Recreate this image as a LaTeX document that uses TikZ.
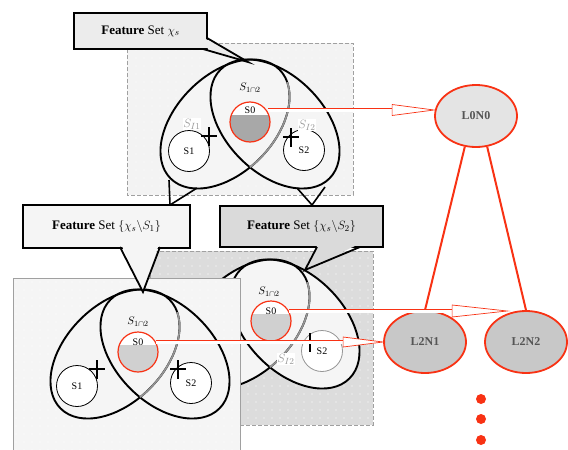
\documentclass[tikz,border=0pt]{standalone}
\usepackage{fontspec}
\setmainfont{Liberation Serif}
\usetikzlibrary{shapes.geometric,calc,patterns.meta}
\definecolor{rd}{RGB}{248,50,20}
\definecolor{panA}{RGB}{243,243,243}
\definecolor{panB}{RGB}{220,220,220}
\definecolor{panC}{RGB}{245,245,245}
\definecolor{boxA}{RGB}{236,236,236}
\definecolor{boxB}{RGB}{218,218,218}
\definecolor{ellf}{RGB}{245,245,245}
\definecolor{sgray}{RGB}{150,150,150}
\definecolor{edgegray}{RGB}{160,160,160}
\definecolor{s0dark}{RGB}{168,168,168}
\definecolor{s0light}{RGB}{208,208,208}
\definecolor{lnodef}{RGB}{200,200,200}
\definecolor{ltop}{RGB}{228,228,228}
\definecolor{ltext}{RGB}{85,85,85}

% the two overlapping tilted ellipses (coordinates of the top panel)
\newcommand\lshape[1]{\path[#1,rotate around={45:(225,124)}] (225,124) ellipse [x radius=77, y radius=49];}
\newcommand\rshape[1]{\path[#1,rotate around={-45:(275,124)}] (275,124) ellipse [x radius=77, y radius=49];}

\newcommand\ellpair[1]{%
 \begin{scope}[shift={#1}]
  \lshape{fill=ellf}
  \rshape{fill=ellf}
  \lshape{ellline}
  \rshape{ellline}
  \begin{scope}
   \rshape{clip}
   \clip (100,82) rectangle (400,220);
   \lshape{grayell}
  \end{scope}
 \end{scope}}

\newcommand\plusmark[1]{\draw[plusln] ($(#1)+(-8,0)$) -- ($(#1)+(8,0)$) ($(#1)+(0,-9)$) -- ($(#1)+(0,10)$);}

\newcommand\hollowarrow[4]{%
 \draw[arrowln] (#1) -- ($(#1 -| #2)+(-#3,0)$);
 \draw[arrowhd] ($(#1 -| #2)+(-#3,-#4)$) -- (#1 -| #2) -- ($(#1 -| #2)+(-#3,#4)$) -- cycle;}

\begin{document}
\begin{tikzpicture}[x=1pt,y=-1pt,
  ellline/.style={draw=black, line width=1.9pt},
  grayell/.style={draw=sgray, line width=1.7pt},
  plusln/.style={line width=1.9pt, black},
  s0node/.style={circle, draw=rd, line width=1.2pt, minimum size=40pt, inner sep=0pt, fill=#1,
     path picture={\fill[white] (path picture bounding box.north west) rectangle ([yshift=-13pt]path picture bounding box.north east);}},
  scirc/.style={circle, draw=#1, line width=0.8pt, minimum size=41pt, inner sep=0pt, fill=white, font=\fontsize{10}{10}\selectfont},
  stxt/.style={font=\fontsize{10}{10}\selectfont, inner sep=1pt, minimum width=36pt},
  ilab/.style={font=\fontsize{13}{13}\selectfont, text=sgray, fill=white, inner sep=0.5pt},
  clab/.style={font=\fontsize{11}{11}\selectfont, inner sep=0pt},
  fbox/.style={draw, line width=2pt, inner sep=0pt, font=\fontsize{13}{14}\selectfont},
  tailln/.style={draw, line width=1.8pt, line join=miter},
  conn/.style={draw, line width=1.6pt},
  panedge/.style={draw=edgegray, line width=0.6pt},
  dashedge/.style={draw=edgegray, line width=0.6pt, dash pattern=on 4pt off 2pt},
  dotsbg/.style={postaction={pattern={Dots[distance=8pt,radius=0.6pt]}, pattern color=white}},
  arrowln/.style={draw=rd, line width=0.7pt, double=white, double distance=3pt},
  arrowhd/.style={draw=rd, line width=0.7pt, fill=white, line join=miter},
  lnode/.style={ellipse, draw=rd, line width=1.8pt, minimum width=82pt, minimum height=62pt, inner sep=0pt, fill=#1, font=\fontsize{12}{12}\selectfont\bfseries, text=ltext},
  treeln/.style={draw=rd, line width=2pt},
  rdot/.style={circle, fill=rd, minimum size=10pt, inner sep=0pt}]
\useasboundingbox (0,0) rectangle (568,450);

% ---------- top panel ----------
\path[fill=panA, dotsbg] (127,43) rectangle (353,195);
\draw[dashedge] (127,43) rectangle (353,195);
\ellpair{(0,0)}
\node[s0node=s0dark] (s0a) at (250,122) {};
\node[stxt] (s0alab) at (250,110) {S0};
\node[scirc=black] (s1a) at (189,151) {S1};
\node[scirc=black] (s2a) at (304,150) {S2};
\plusmark{209,136}
\plusmark{291,137}
\node[ilab] (i1a) at (192,124) {$S_{I1}$};
\node[ilab] (i2a) at (307,125) {$S_{I2}$};
\node[clab] (ca) at (250,88) {$S_{1\cap 2}$};

% top callout
\node[fbox, fill=boxA, minimum width=133pt, minimum height=36pt] (tbox) at (140.5,31) {\textbf{Feature} Set $\chi_s$};
\coordinate (ta) at (248,62);
\fill[boxA] (204,38) -- (ta) -- (204,47) -- cycle;
\draw[tailln] (207,38) -- (ta) -- (203,49);

% connectors from top panel to lower boxes
\coordinate (la) at (170,205);
\coordinate (ra) at (312,205);
\draw[conn] (169,180) -- (la);
\draw[conn] (197,188) -- (la);
\draw[conn] (297,188) -- (ra);
\draw[conn] (325,187) -- (ra);

% ---------- second (gray) panel ----------
\path[fill=panB, dotsbg] (150,251) rectangle (373,425);
\draw[dashedge] (150,251) rectangle (373,425);
\ellpair{(20,200)}
\node[s0node=s0light] (s0b) at (271,321) {};
\node[stxt] (s0blab) at (271,311) {S0};
\node[scirc=sgray] (s2b) at (322,351) {S2};
\plusmark{310,342}
\node[ilab] (i2b) at (286,359) {$S_{I2}$};
\node[clab] (cb) at (269,292) {$S_{1\cap 2}$};

% right lower box
\node[fbox, fill=boxB, minimum width=163pt, minimum height=41pt] (rbox) at (301.5,226.5) {\textbf{Feature} Set $\{\chi_s\backslash S_2\}$};
\coordinate (rp) at (305,270);
\fill[boxB] (318,244) -- (rp) -- (359,244) -- cycle;
\draw[tailln] (317,247) -- (rp) -- (360,247);

% ---------- bottom-left panel ----------
\path[fill=panC, dotsbg] (13,278) rectangle (240,460);
\draw[panedge] (13,278) rectangle (240,460);
\ellpair{(-110,230)}
\node[s0node=s0light] (s0c) at (138,352) {};
\node[stxt] (s0clab) at (138,342) {S0};
\node[scirc=black] (s1c) at (77,386) {S1};
\node[scirc=black] (s2c) at (191,383) {S2};
\plusmark{97,369}
\plusmark{178,369}
\node[clab] (cc) at (138,322) {$S_{1\cap 2}$};

% left lower box
\node[fbox, fill=panC, minimum width=167pt, minimum height=43pt] (lbox) at (106.5,226.5) {\textbf{Feature} Set $\{\chi_s\backslash S_1\}$};
\coordinate (lp) at (143,292);
\fill[panC] (121,244) -- (lp) -- (159,244) -- cycle;
\draw[tailln] (120,247) -- (lp) -- (160,247);

% ---------- tree ----------
\node[lnode=ltop] (l0n0) at (476,116) {L0N0};
\node[lnode=lnodef] (l2n1) at (425,342) {L2N1};
\node[lnode=lnodef] (l2n2) at (526,342) {L2N2};
\draw[treeln] (l0n0.250) -- (l2n1.north);
\draw[treeln] (l0n0.290) -- (l2n2.north);
\node[rdot] (d1) at (481,399) {};
\node[rdot] (d2) at (481,419) {};
\node[rdot] (d3) at (481,440) {};

% ---------- red hollow arrows ----------
\coordinate (t2) at ($(l2n2.west)+(23,0)$);
\hollowarrow{s0alab.east}{l0n0.west}{42}{5.5}
\hollowarrow{s0blab.east}{t2}{55}{6}
\hollowarrow{s0clab.east}{l2n1.west}{40}{5}
\end{tikzpicture}
\end{document}
